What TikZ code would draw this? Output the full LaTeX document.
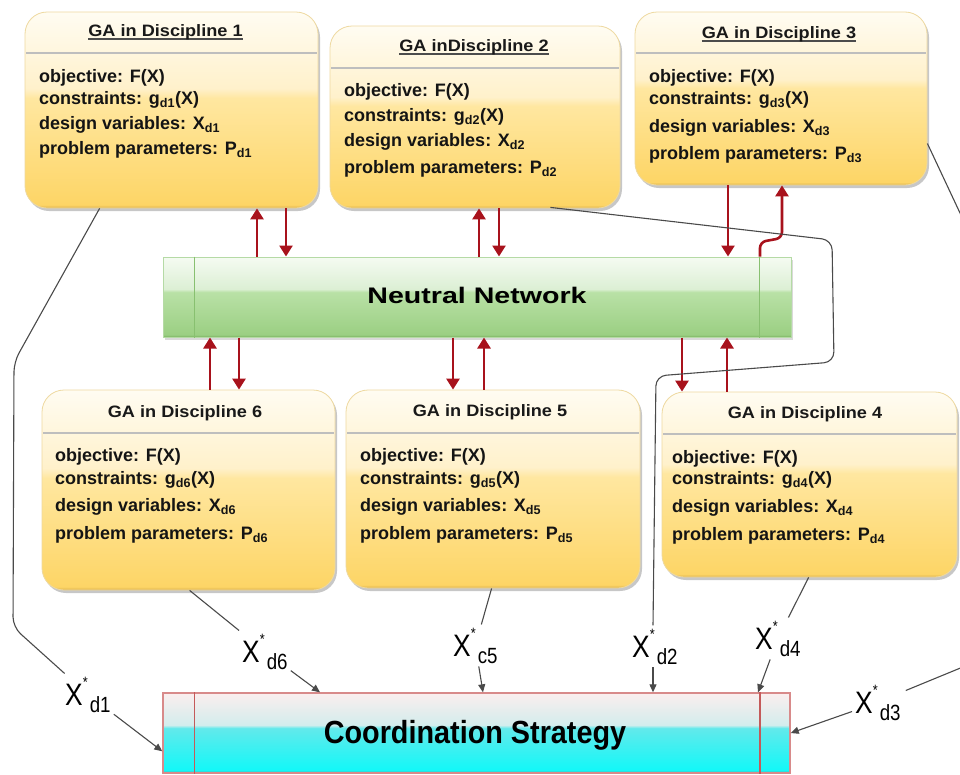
\documentclass[tikz,border=0pt]{standalone}
\usepackage{fontspec}
\setmainfont{Liberation Sans}
\newfontfamily\titlefont[FakeStretch=1.1]{Liberation Sans}
\newfontfamily\lblfont[FakeStretch=0.85]{Liberation Sans}
\newfontfamily\csfont[FakeStretch=0.9]{Liberation Sans}
\newfontfamily\nnfont[FakeStretch=1.27]{Liberation Sans}
\usetikzlibrary{arrows.meta,shadows,calc}

\definecolor{yTop}{HTML}{FFFCF2}
\definecolor{yUp}{HTML}{FFF1CB}
\definecolor{yLow}{HTML}{FFE7A0}
\definecolor{yBot}{HTML}{FDD566}
\definecolor{yEdge}{HTML}{DDB24A}
\definecolor{yBorder}{HTML}{EED9A0}
\definecolor{gTop}{HTML}{F5FBF2}
\definecolor{gUp}{HTML}{DCEFD4}
\definecolor{gLow}{HTML}{B9E1A6}
\definecolor{gBot}{HTML}{9BCF83}
\definecolor{gEdge}{HTML}{7AB463}
\definecolor{gBorder}{HTML}{B5DAA5}
\definecolor{gInner}{HTML}{88C070}
\definecolor{cTop}{HTML}{FBEEEE}
\definecolor{cUp}{HTML}{D3EDED}
\definecolor{cLow}{HTML}{62E9EB}
\definecolor{cBot}{HTML}{12F8F8}
\definecolor{cEdge}{HTML}{B05A5A}
\definecolor{cBorder}{HTML}{D88A8A}
\definecolor{cInner}{HTML}{C45A5A}
\definecolor{arrRed}{HTML}{A8121C}
\definecolor{connGray}{HTML}{4A4A4A}
\definecolor{sepGray}{HTML}{BEBEBE}

\pgfdeclareverticalshading{gashade}{100bp}{color(0bp)=(yEdge); color(25bp)=(yEdge); color(25.8bp)=(yBot); color(53bp)=(yLow); color(55.5bp)=(yUp); color(75bp)=(yTop); color(100bp)=(yTop)}
\pgfdeclareverticalshading{nnshade}{100bp}{color(0bp)=(gEdge); color(25bp)=(gEdge); color(26.5bp)=(gBot); color(53bp)=(gLow); color(55bp)=(gUp); color(75bp)=(gTop); color(100bp)=(gTop)}
\pgfdeclareverticalshading{csshade}{100bp}{color(0bp)=(cEdge); color(25bp)=(cEdge); color(26.5bp)=(cBot); color(53bp)=(cLow); color(55bp)=(cUp); color(75bp)=(cTop); color(100bp)=(cTop)}

\newcommand\myul[1]{\setbox0\hbox{#1}\rlap{\color{black!70}\rule[-3.5pt]{\wd0}{1.5pt}}\box0}
\newcommand\xlab[1]{X\makebox[7pt][l]{\raisebox{18pt}{\fontsize{15}{15}\selectfont *}}\raisebox{-7pt}{\fontsize{22}{22}\selectfont #1}}
\newcommand\gatext[7]{%
  \node[galine] (#1l1) at (#2,#3) {objective: F(X)};
  \node[galine] (#1l2) at (#2,#4) {constraints: g\textsubscript{d#7}(X)};
  \node[galine] (#1l3) at (#2,#5) {design variables: X\textsubscript{d#7}};
  \node[galine] (#1l4) at (#2,#6) {problem parameters: P\textsubscript{d#7}};%
}

\tikzset{
  gabox/.style={shade, shading=gashade, draw=yBorder, line width=0.8pt,
    rounded corners=22pt, inner sep=0pt,
    drop shadow={shadow xshift=2pt, shadow yshift=-3pt, opacity=0.22, fill=black}},
  nnbox/.style={shade, shading=nnshade, draw=gBorder, line width=1pt, inner sep=0pt,
    drop shadow={shadow xshift=1.5pt, shadow yshift=-2.5pt, opacity=0.15, fill=black},
    font=\nnfont\fontsize{22.5}{24}\selectfont\bfseries},
  csbox/.style={shade, shading=csshade, draw=cBorder, line width=1.4pt, inner sep=0pt,
    font=\csfont\fontsize{32}{34}\selectfont\bfseries},
  nninner/.style={draw=gInner, line width=1.6pt},
  csinner/.style={draw=cInner, line width=1.6pt},
  gatitle/.style={anchor=base, inner sep=0pt, text=black!90,
    font=\titlefont\fontsize{16.5}{18}\selectfont\bfseries},
  galine/.style={anchor=base west, inner sep=0pt, text=black!92,
    font=\fontsize{18}{20}\selectfont\bfseries},
  sepline/.style={draw=sepGray, line width=2.2pt},
  redarr/.style={draw=arrRed, line width=2.6pt, -{Triangle[length=11pt,width=13pt]}},
  conn/.style={draw=connGray, line width=1.1pt},
  connarr/.style={conn, -{Triangle[length=8pt,width=7pt]}},
  xlabel/.style={anchor=base west, inner sep=3pt,
    font=\lblfont\fontsize{31}{31}\selectfont}
}

\begin{document}
\begin{tikzpicture}[x=1pt,y=-1pt]
\fill[white] (0,0) rectangle (960,774);
\useasboundingbox (0,0) rectangle (960,774);

% ---------- boxes ----------
\node[gabox, minimum width=293pt, minimum height=196pt] (b1) at (171.5,110) {};
\node[gabox, minimum width=290pt, minimum height=182pt] (b2) at (475,117) {};
\node[gabox, minimum width=292pt, minimum height=173pt] (b3) at (781,98.5) {};
\node[gabox, minimum width=293pt, minimum height=200pt] (b6) at (188.5,490) {};
\node[gabox, minimum width=294pt, minimum height=198pt] (b5) at (493,489) {};
\node[gabox, minimum width=295pt, minimum height=185pt] (b4) at (809.5,484.5) {};

% separators
\draw[sepline] ($(b1.west |- 0,53)+(1.5,0)$) -- ($(b1.east |- 0,53)+(-1.5,0)$);
\draw[sepline] ($(b2.west |- 0,68)+(1.5,0)$) -- ($(b2.east |- 0,68)+(-1.5,0)$);
\draw[sepline] ($(b3.west |- 0,53)+(1.5,0)$) -- ($(b3.east |- 0,53)+(-1.5,0)$);
\draw[sepline] ($(b6.west |- 0,433)+(1.5,0)$) -- ($(b6.east |- 0,433)+(-1.5,0)$);
\draw[sepline] ($(b5.west |- 0,433)+(1.5,0)$) -- ($(b5.east |- 0,433)+(-1.5,0)$);
\draw[sepline] ($(b4.west |- 0,434)+(1.5,0)$) -- ($(b4.east |- 0,434)+(-1.5,0)$);

% titles
\node[gatitle] (b1t) at (165.5,36) {\myul{GA in Discipline 1}};
\node[gatitle] (b2t) at (474,51) {\myul{GA inDiscipline 2}};
\node[gatitle] (b3t) at (779,38) {\myul{GA in Discipline 3}};
\node[gatitle] (b6t) at (185,417) {GA in Discipline 6};
\node[gatitle] (b5t) at (490,416) {GA in Discipline 5};
\node[gatitle] (b4t) at (805,418) {GA in Discipline 4};

% body lines
\gatext{b1}{39}{82}{104}{129}{154}{1}
\gatext{b2}{344}{96}{121}{146}{173}{2}
\gatext{b3}{649}{82}{104}{132}{159}{3}
\gatext{b6}{55}{461}{484}{511}{539}{6}
\gatext{b5}{360}{461}{484}{511}{539}{5}
\gatext{b4}{672}{463}{484}{512}{540}{4}

% ---------- bars ----------
\node[nnbox, minimum width=628pt, minimum height=80pt] (nn) at (477,297) {};
\draw[nninner] ($(nn.north west)+(32,0)$) -- ($(nn.south west)+(32,0)$);
\draw[nninner] ($(nn.north east)+(-32,0)$) -- ($(nn.south east)+(-32,0)$);
\node[anchor=base, inner sep=0pt, font=\nnfont\fontsize{22.5}{24}\selectfont\bfseries] (nnt) at (477,303) {Neutral Network};

\node[csbox, minimum width=627pt, minimum height=80pt] (cs) at (476.5,733) {};
\draw[csinner] ($(cs.north west)+(32,0)$) -- ($(cs.south west)+(32,0)$);
\draw[csinner] ($(cs.north east)+(-31,0)$) -- ($(cs.south east)+(-31,0)$);
\node[anchor=base, inner sep=0pt, font=\csfont\fontsize{32}{34}\selectfont\bfseries] (cst) at (475,743) {Coordination Strategy};

% ---------- red arrows ----------
\draw[redarr] (257,0 |- nn.north) -- (257,0 |- b1.south);
\draw[redarr] (286,0 |- b1.south) -- (286,0 |- nn.north);
\draw[redarr] (479,0 |- nn.north) -- (479,0 |- b2.south);
\draw[redarr] (499,0 |- b2.south) -- (499,0 |- nn.north);
\draw[redarr] (728,0 |- b3.south) -- (728,0 |- nn.north);
\draw[redarr, rounded corners=6pt] (760,0 |- nn.north) -- (760,242) -- (782,238) -- (782,0 |- b3.south);

\draw[redarr] (210,0 |- b6.north) -- (210,0 |- nn.south);
\draw[redarr] (239,0 |- nn.south) -- (239,0 |- b6.north);
\draw[redarr] (453,0 |- nn.south) -- (453,0 |- b5.north);
\draw[redarr] (484,0 |- b5.north) -- (484,0 |- nn.south);
\draw[redarr] (682,0 |- nn.south) -- (682,0 |- b4.north);
\draw[redarr] (727,0 |- b4.north) -- (727,0 |- nn.south);

% ---------- labels ----------
\node[xlabel] (l1) at (62,705) {\xlab{d1}};
\node[xlabel] (l6) at (239,662) {\xlab{d6}};
\node[xlabel] (l5) at (450,656) {\xlab{c5}};
\node[xlabel] (l2) at (629,657) {\xlab{d2}};
\node[xlabel] (l4) at (752,649) {\xlab{d4}};
\node[xlabel] (l3) at (852,713) {\xlab{d3}};

% ---------- connectors ----------
\draw[conn, rounded corners=10pt] ($(b1.south west)+(75,0)$) -- (14,362) -- (13,627) -- (l1);
\draw[connarr] (l1) -- ($(cs.north west)+(0,59)$);

\draw[conn] ($(b6.south west)+(148,0)$) -- (l6);
\draw[connarr] (l6) -- (320,0 |- cs.north);

\draw[conn] ($(b5.south west)+(146,0)$) -- (l5);
\draw[connarr] (l5) -- (483,0 |- cs.north);

\draw[conn, rounded corners=10pt] ($(b2.south east)+(-70,-1)$) -- (832,240) -- (834,362) -- (656,376) -- (653,0 |- l2.north);
\draw[connarr] (653,0 |- l2.south) -- (653,0 |- cs.north);

\draw[conn] ($(b4.south west)+(147,0)$) -- (l4);
\draw[connarr] (l4) -- (758,0 |- cs.north);

\begin{scope}
\clip (0,0) rectangle (960,774);
\draw[conn, rounded corners=12pt] ($(b3.east)+(0,45)$) -- (975,245) -- (975,662) -- ($(l3.north east)+(2,9)$);
\end{scope}
\draw[connarr] (l3) -- (cs.east);

\end{tikzpicture}
\end{document}
